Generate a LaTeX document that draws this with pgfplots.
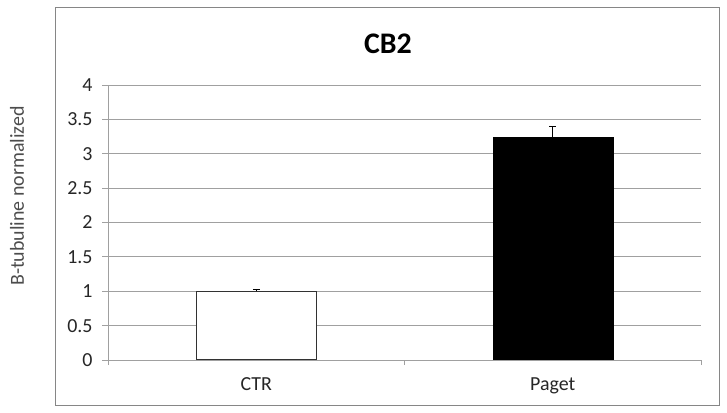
\documentclass[border=0pt]{standalone}
\usepackage{fontspec}
\setmainfont{Carlito}
\usepackage{pgfplots}
\pgfplotsset{compat=1.18}

\definecolor{gridgray}{RGB}{160,160,160}
\definecolor{framegray}{RGB}{134,134,134}
\definecolor{edgegray}{RGB}{50,50,50}

\begin{document}
\begin{tikzpicture}[x=1bp,y=1bp]
    \useasboundingbox (0,0) rectangle (727,412);
    % chart frame
    \draw[framegray, line width=0.9bp] (55,7) rectangle (719,405);
    % title and y label
    \node[font=\fontsize{30}{32}\selectfont\bfseries, anchor=base] at (388,359) {CB2};
    \node[font=\fontsize{20}{22}\selectfont, text=black!70, rotate=90] at (17,216) {B-tubuline normalized};

    \begin{axis}[
        at={(108bp,52bp)}, anchor=south west,
        scale only axis,
        width=593bp, height=275bp,
        xmin=0, xmax=2,
        ymin=0, ymax=4,
        ytick={0,0.5,...,4},
        yticklabel style={/pgf/number format/fixed, /pgf/number format/precision=1},
        xtick={0.5,1.5},
        xticklabels={CTR, Paget},
        minor xtick={0,1,2},
        axis x line*=bottom,
        axis y line*=left,
        axis line style={gridgray, line width=0.9bp},
        ymajorgrids,
        major grid style={gridgray, line width=0.9bp},
        tick align=outside,
        major tick length=6bp,
        minor tick length=5bp,
        major x tick style={draw=none},
        tick style={gridgray, line width=0.9bp},
        ticklabel style={font=\fontsize{20}{22}\selectfont, text=black!85},
        yticklabel style={xshift=-6bp},
        xticklabel style={yshift=-8bp},
        /pgf/number format/assume math mode=true,
        ybar, bar width=120bp, bar shift=0pt,
        clip=false,
    ]
    % CTR
    \addplot[fill=white, draw=edgegray, line width=1.3bp,
        error bars/.cd, y dir=plus, y explicit,
        error bar style={black, line width=1bp}, error mark options={rotate=90, mark size=3.5bp, black, line width=1bp}]
        coordinates {(0.5,1.0) +- (0,0.03)};
    % Paget
    \addplot[fill=black, draw=black,
        error bars/.cd, y dir=plus, y explicit,
        error bar style={black, line width=1bp}, error mark options={rotate=90, mark size=3.5bp, black, line width=1bp}]
        coordinates {(1.5,3.24) +- (0,0.15)};
    % category axis drawn over the bar feet, as in the original
    \draw[gridgray, line width=0.9bp] (axis cs:0,0) -- (axis cs:2,0);
    \end{axis}
\end{tikzpicture}
\end{document}
